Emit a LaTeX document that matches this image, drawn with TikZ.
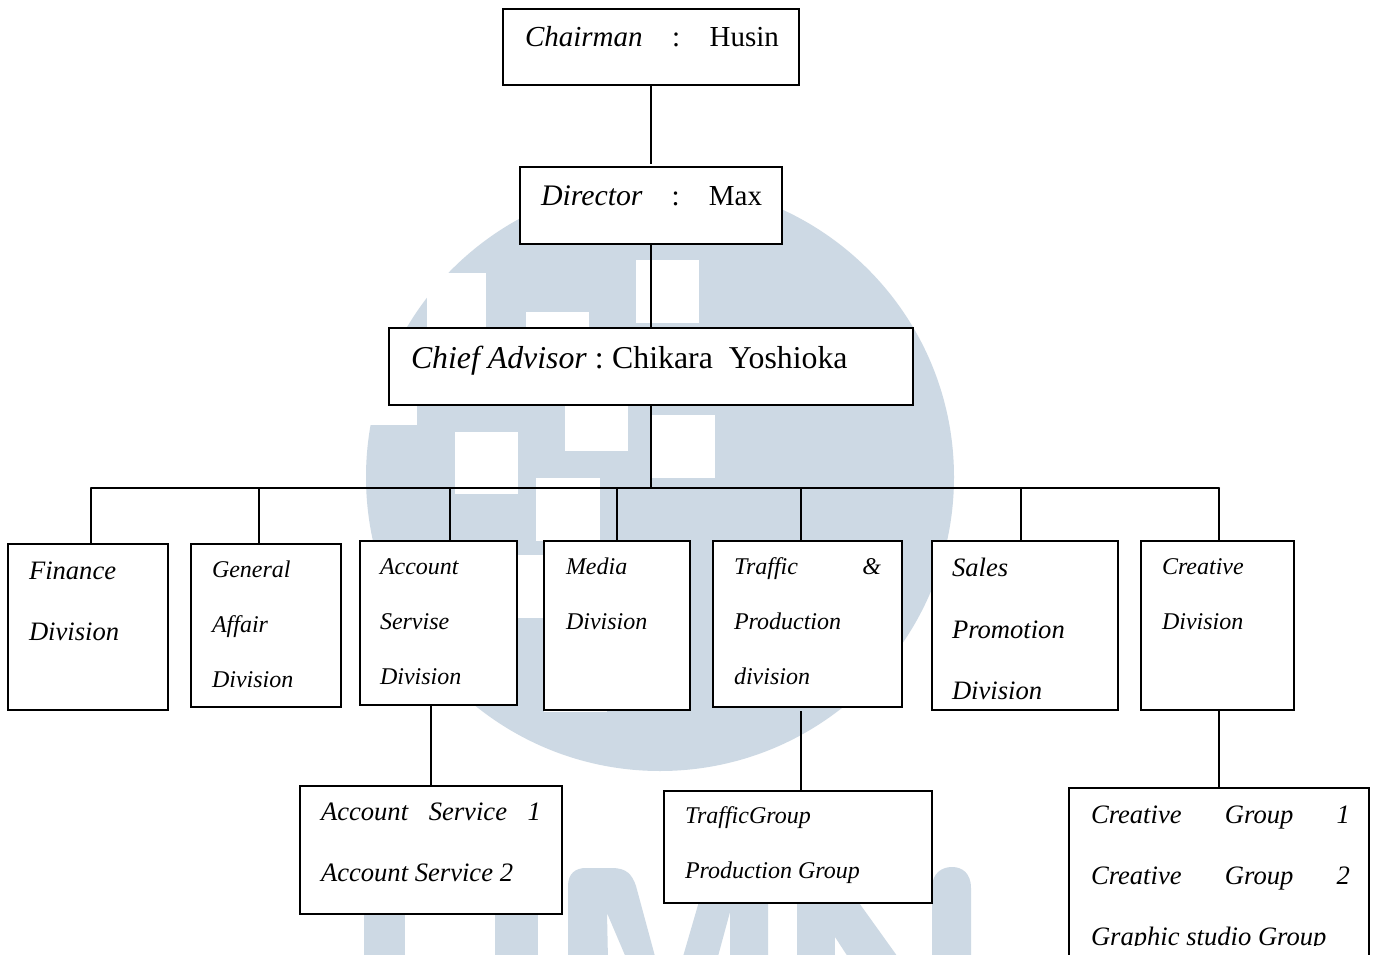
\documentclass[tikz,border=0pt]{standalone}
\usepackage{fontspec}
\setmainfont{Liberation Serif}
\definecolor{wm}{HTML}{CDD9E4}
\tikzset{
  orgbox/.style={draw=black,fill=white,line width=2pt,outer sep=0pt,inner sep=0pt},
  link/.style={draw=black,line width=2pt},
  txt/.style={anchor=base west,inner sep=0pt,outer sep=0pt,text=black},
  tS/.style={txt,font=\fontsize{24}{24}\selectfont\itshape},
  tM/.style={txt,font=\fontsize{26.6}{26.6}\selectfont\itshape},
  tL/.style={txt,font=\fontsize{29}{29}\selectfont},
  tX/.style={txt,font=\fontsize{31.8}{31.8}\selectfont},
}
\begin{document}
\begin{tikzpicture}[x=1pt,y=-1pt]
\useasboundingbox (0,0) rectangle (1377,955);
\clip (0,0) rectangle (1377,955);
\fill[white] (0,0) rectangle (1377,955);
% watermark
\fill[wm] (660,477) circle[radius=294];
\fill[white] (427,273) rectangle (486,340);
\fill[white] (350,340) rectangle (417,425);
\fill[white] (636,260) rectangle (699,323);
\fill[white] (526,312) rectangle (589,375);
\fill[white] (565,388) rectangle (628,451);
\fill[white] (652,415) rectangle (715,478);
\fill[white] (455,432) rectangle (518,494);
\fill[white] (536,478) rectangle (600,541);
\fill[white] (481,555) rectangle (544,618);
\fill[white] (544,650) rectangle (607,712);
% U
\fill[wm] (364,880) rectangle (405,960);
\fill[wm] (495,880) rectangle (538,960);
% M
\fill[wm] (568,960) -- (568,886) .. controls (568,873) and (576,868) .. (586,868)
  -- (612,868) .. controls (626,868) and (632,874) .. (636,886) -- (656,960)
  -- (627,960) -- (607,913) -- (608,960) -- cycle;
\fill[wm] (682,960) -- (714,850) -- (768,850) -- (768,960) -- (730,960) -- (730,912) -- (717,960) -- cycle;
% N
\fill[wm] (797,850) rectangle (835,960);
\fill[wm] (835,850) -- (835,937) -- (850,960) -- (900,960) -- (857,900) -- (857,850) -- cycle;
\fill[wm] (932,960) -- (932,888) .. controls (932,873) and (942,867) .. (952,867)
  .. controls (962,867) and (971,873) .. (971,888) -- (971,960) -- cycle;
% boxes
\node[orgbox,minimum width=296pt,minimum height=76pt] (chair) at (651,47) {};
\node[orgbox,minimum width=262pt,minimum height=77pt] (dir) at (651,205.5) {};
\node[orgbox,minimum width=524pt,minimum height=77pt] (chief) at (651,366.5) {};
\node[orgbox,minimum width=160pt,minimum height=166pt] (fin) at (88,627) {};
\node[orgbox,minimum width=150pt,minimum height=163pt] (gen) at (266,625.5) {};
\node[orgbox,minimum width=157pt,minimum height=164pt] (acc) at (438.5,623) {};
\node[orgbox,minimum width=146pt,minimum height=169pt] (med) at (617,625.5) {};
\node[orgbox,minimum width=189pt,minimum height=166pt] (tra) at (807.5,624) {};
\node[orgbox,minimum width=186pt,minimum height=169pt] (sal) at (1025,625.5) {};
\node[orgbox,minimum width=153pt,minimum height=169pt] (cre) at (1217.5,625.5) {};
\node[orgbox,minimum width=262pt,minimum height=128pt] (as) at (431,850) {};
\node[orgbox,minimum width=268pt,minimum height=112pt] (tg) at (798,847) {};
\node[orgbox,minimum width=300pt,minimum height=220pt] (cg) at (1219,898) {};
% connectors
\coordinate (busL) at (91,488);
\coordinate (busR) at (1219,488);
\coordinate (busC) at (651,488);
\coordinate (d2) at (259,488);
\coordinate (d3) at (450,488);
\coordinate (d5) at (801,488);
\coordinate (d6) at (1021,488);
\coordinate (chairEnd) at (651,164);
\coordinate (traEnd) at (801,711);
\draw[link] (chair.south) -- (chairEnd);
\draw[link] (dir.south) -- (chief.north);
\draw[link] (chief.south) -- (busC);
\draw[link,line cap=round] (busL) -- (busR);
\draw[link] (busL) -- (busL |- fin.north);
\draw[link] (d2) -- (d2 |- gen.north);
\draw[link] (d3) -- (d3 |- acc.north);
\draw[link] (med.north |- busC) -- (med.north);
\draw[link] (d5) -- (d5 |- tra.north);
\draw[link] (d6) -- (d6 |- sal.north);
\draw[link] (busR) -- (busR |- cre.north);
\draw[link] (as.north |- acc.south) -- (as.north);
\draw[link] (traEnd) -- (traEnd |- tg.north);
\draw[link] (busR |- cre.south) -- (busR |- cg.north);
% texts
\node[tL] (t1) at (525,47) {\hbox to 254pt{\textit{Chairman}\hfill:\hfill Husin}};
\node[tL] (t2) at (541,205) {\hbox to 221pt{{\fontsize{29.8}{29.8}\selectfont\textit{Director}}\hfill:\hfill Max}};
\node[tX] (t3) at (411,368) {\textit{Chief Advisor} :\hspace{-2pt} Chikara\hspace{8pt} Yoshioka};
\node[tM] (t4a) at (29,579) {Finance};
\node[tM] (t4b) at (29,640) {Division};
\node[tS] (t5a) at (212,577) {General};
\node[tS] (t5b) at (212,632) {Affair};
\node[tS] (t5c) at (212,687) {Division};
\node[tS] (t6a) at (380,574) {Account};
\node[tS] (t6b) at (380,629) {Servise};
\node[tS] (t6c) at (380,684) {Division};
\node[tS] (t7a) at (566,574) {Media};
\node[tS] (t7b) at (566,629) {Division};
\node[tS] (t8a) at (734,574) {\hbox to 147pt{Traffic\hfill\&}};
\node[tS] (t8b) at (734,629) {Production};
\node[tS] (t8c) at (734,684) {division};
\node[tM] (t9a) at (952,576) {Sales};
\node[tM] (t9b) at (952,638) {Promotion};
\node[tM] (t9c) at (952,699) {Division};
\node[tS] (t10a) at (1162,574) {Creative};
\node[tS] (t10b) at (1162,629) {Division};
\node[tM] (t11a) at (321,820) {\hbox to 220pt{Account\hfill Service\hfill 1}};
\node[tM] (t11b) at (321,881) {Account Service 2};
\node[tS] (t12a) at (685,823) {TrafficGroup};
\node[tS] (t12b) at (685,878) {Production Group};
\node[tM] (t13a) at (1091,823) {\hbox to 259pt{Creative\hfill Group\hfill 1}};
\node[tM] (t13b) at (1091,884) {\hbox to 259pt{Creative\hfill Group\hfill 2}};
\node[tM] (t13c) at (1091,945) {Graphic studio Group};
\fill[white] (1071,946) rectangle (1367,956);
\end{tikzpicture}
\end{document}
